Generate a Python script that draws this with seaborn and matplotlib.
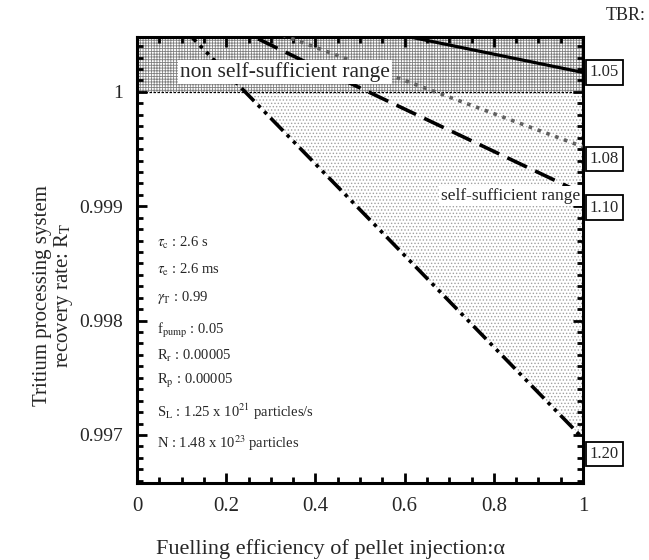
import numpy as np
import pandas as pd
import seaborn as sns
import matplotlib.pyplot as plt
from matplotlib.ticker import MultipleLocator

# Fuelling efficiency (x) and tritium recovery rate
alpha = [0.0, 0.2, 0.4, 0.6, 0.8, 1.0]
rt_105 = [1.00097, 1.00081, 1.00065, 1.00049, 1.00033, 1.00017]
rt_108 = [1.00097, 1.00068, 1.00039, 1.00010, 0.99981, 0.99952]
rt_110 = [1.00097, 1.00060, 1.00022, 0.99985, 0.99948, 0.99911]
rt_120 = [1.00097, 1.00017, 0.99937, 0.99857, 0.99777, 0.99697]
tbr_labels = ['1.05', '1.08', '1.10', '1.20']

x_ticks = [0, 0.2, 0.4, 0.6, 0.8, 1.0]
x_ticklabels = ['0', '0.2', '0.4', '0.6', '0.8', '1']
y_ticks = [0.997, 0.998, 0.999, 1.0]
y_ticklabels = ['0.997', '0.998', '0.999', '1']

params = [r'$\tau_\mathrm{c}$ : 2.6 s',
          r'$\tau_\mathrm{e}$ : 2.6 ms',
          r'$\gamma_\mathrm{T}$ : 0.99',
          r'f$_\mathrm{pump}$ : 0.05',
          r'R$_\mathrm{r}$ : 0.00005',
          r'R$_\mathrm{p}$ : 0.00005',
          r'S$_\mathrm{L}$ : 1.25 x 10$^{21}$ particles/s',
          r'N : 1.48 x 10$^{23}$ particles']


def main():
    sns.set_style('ticks')
    plt.rcParams['font.family'] = ['Liberation Serif', 'DejaVu Serif']
    plt.rcParams['mathtext.fontset'] = 'stix'
    plt.rcParams['hatch.linewidth'] = 0.6

    fig = plt.figure(figsize=(6.49, 5.6), dpi=100)
    ax = fig.add_axes([137 / 649, 1 - 483 / 560, 446 / 649, 446 / 560])
    ax.set_xlim(0, 1)
    ax.set_ylim(0.99658, 1.00048)

    # shaded regions
    ax.axhspan(1.0, 1.001, facecolor='white', edgecolor='#808080',
               hatch='++++++', linewidth=0, zorder=0)
    a = np.array(alpha)
    r = np.array(rt_120)
    ax.fill_between(a, r, 1.0, where=r <= 1.0, interpolate=True,
                    facecolor='white', edgecolor='#a0a0a0', hatch='.....',
                    linewidth=0, zorder=0)
    ax.axhline(1.0, color='black', lw=0.9, ls=(0, (2, 1.2)), zorder=1)

    styles = [
        (rt_105, 'black', 2.3, '-'),
        (rt_108, '#606060', 2.6, (0, (1.0, 1.6))),
        (rt_110, 'black', 2.6, (0, (6, 2.5))),
        (rt_120, 'black', 2.6, (0, (5, 1.5, 1, 1.5, 1, 1.5))),
    ]
    for vals, color, lw, ls in styles:
        sns.lineplot(x=alpha, y=vals, ax=ax, color=color, linewidth=lw,
                     linestyle=ls, zorder=3)

    # TBR boxes at the right edge
    offsets = [0, -9, -10, -11]
    for vals, lab, dy in zip([rt_105, rt_108, rt_110, rt_120],
                             tbr_labels, offsets):
        ax.annotate(lab, xy=(1.0, vals[-1]), xycoords='data',
                    xytext=(5, dy), textcoords='offset points',
                    ha='left', va='center', fontsize=12,
                    annotation_clip=False,
                    bbox=dict(boxstyle='square,pad=0.25', fc='white',
                              ec='black', lw=1.3))
    fig.text(0.995, 0.972, 'TBR:', ha='right', va='center', fontsize=13)

    ax.text(0.096, 1.000175, 'non self-sufficient range', fontsize=15.5,
            ha='left', va='center', zorder=4,
            bbox=dict(boxstyle='square,pad=0.1', fc='white', ec='none'))
    ax.text(0.682, 0.99909, 'self-sufficient range', fontsize=12.5,
            ha='left', va='center', zorder=4,
            bbox=dict(boxstyle='square,pad=0.1', fc='white', ec='none'))

    # parameter list
    ys = [0.538, 0.478, 0.417, 0.343, 0.285, 0.229, 0.159, 0.090]
    for txt, yy in zip(params, ys):
        ax.text(0.045, yy, txt, transform=ax.transAxes, fontsize=10.5,
                ha='left', va='center')

    ax.set_xticks(x_ticks)
    ax.set_xticklabels(x_ticklabels)
    ax.set_yticks(y_ticks)
    ax.set_yticklabels(y_ticklabels)
    ax.xaxis.set_minor_locator(MultipleLocator(0.05))
    ax.yaxis.set_minor_locator(MultipleLocator(0.0001))
    ax.tick_params(which='both', direction='in', top=True, right=True,
                   width=2, color='black')
    ax.tick_params(axis='x', labelsize=15)
    ax.tick_params(axis='y', labelsize=14)
    ax.tick_params(which='major', length=7, pad=10)
    ax.tick_params(which='minor', length=4)
    for sp in ax.spines.values():
        sp.set_linewidth(2.2)
        sp.set_color('black')

    ax.set_xlabel('Fuelling efficiency of pellet injection:\u03b1', fontsize=16)
    ax.set_ylabel('Tritium processing system\nrecovery rate: R$_\\mathrm{T}$',
                  fontsize=15, linespacing=1.0)
    ax.xaxis.set_label_coords(0.433, -0.125)
    ax.yaxis.set_label_coords(-0.14, 0.42)

    fig.savefig('out.png', dpi=100)


if __name__ == '__main__':
    main()
